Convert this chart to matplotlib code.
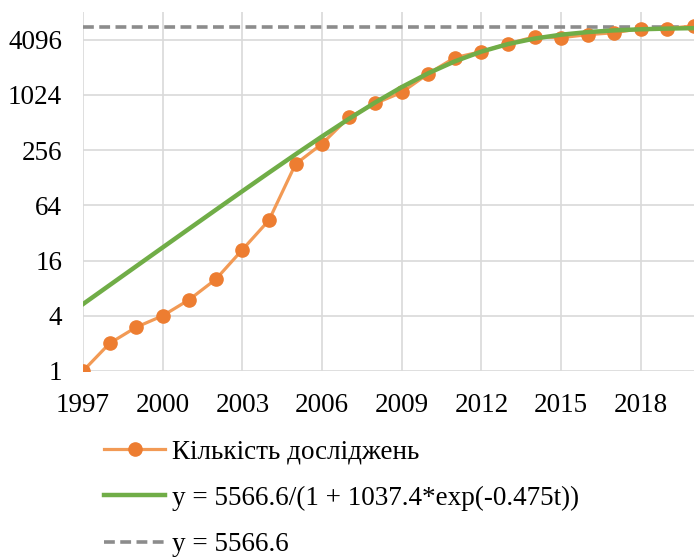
import numpy as np
import matplotlib.pyplot as plt
from matplotlib.ticker import FixedLocator, NullLocator

plt.rcParams["font.family"] = ["Liberation Serif", "DejaVu Serif"]

years = [1997, 1998, 1999, 2000, 2001, 2002, 2003, 2004, 2005, 2006, 2007, 2008,
         2009, 2010, 2011, 2012, 2013, 2014, 2015, 2016, 2017, 2018, 2019, 2020]
studies = [1, 2, 3, 4, 6, 10, 21, 44, 180, 300, 580, 825,
           1090, 1745, 2610, 3030, 3690, 4400, 4300, 4640, 4870, 5400, 5400, 5800]

# logistic fit parameters, t counted from 1997
K, A, r = 5566.6, 1037.4, 0.475
fit_years = np.array(years)
fit_vals = K / (1 + A * np.exp(-r * (fit_years - 1997)))

ytick_vals = [1, 4, 16, 64, 256, 1024, 4096]
xtick_vals = [1997, 2000, 2003, 2006, 2009, 2012, 2015, 2018]

fs = 19.5

fig = plt.figure(figsize=(6.94, 5.59), dpi=100)
ax = fig.add_axes([83 / 694, 1 - 371 / 559, 1 - 83 / 694, (371 - 12) / 559])

ax.plot(years, studies, color="#F29A55", lw=2.3, marker="o", ms=9.5,
        mfc="#ED7D31", mec="#ED7D31",
        label="Кількість досліджень", zorder=3)
ax.plot(fit_years, fit_vals, color="#70AD47", lw=3.2,
        label="y = 5566.6/(1 + 1037.4*exp(-0.475t))", zorder=4)
ax.axhline(K, color="#8C8C8C", lw=2.6, ls=(0, (3, 1.5)), label="y = 5566.6", zorder=2)

ax.set_yscale("log", base=2)
ax.set_ylim(1, 8192)
ax.set_xlim(1997, 2020)
ax.yaxis.set_major_locator(FixedLocator(ytick_vals))
ax.yaxis.set_minor_locator(NullLocator())
ax.set_yticklabels([str(v) for v in ytick_vals])
ax.set_xticks(xtick_vals)
ax.set_xticklabels([str(v) for v in xtick_vals])
ax.tick_params(axis="both", length=0, labelsize=fs, colors="black")
ax.tick_params(axis="y", pad=15)
ax.tick_params(axis="x", pad=16)

ax.grid(True, color="#D9D9D9", lw=1.2)
ax.set_axisbelow(True)
for s in ax.spines.values():
    s.set_visible(False)

fig.legend(loc="upper left", bbox_to_anchor=(104 / 694, 1 - 439 / 559),
           frameon=False, fontsize=fs, handlelength=2.26, handletextpad=0.26,
           labelspacing=0.8, borderaxespad=0, borderpad=0)

fig.savefig("out.png", dpi=100)
